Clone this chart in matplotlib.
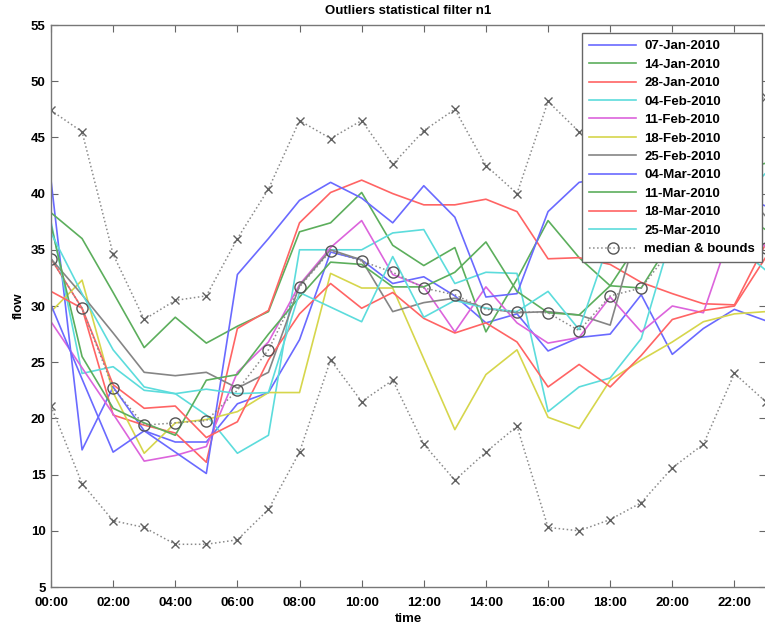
import matplotlib
matplotlib.use("Agg")
import matplotlib.pyplot as plt
import numpy as np

hours = list(range(24))
xtick_pos = list(range(0, 24, 2))
xtick_labels = ["00:00", "02:00", "04:00", "06:00", "08:00", "10:00",
                "12:00", "14:00", "16:00", "18:00", "20:00", "22:00"]

labels = ["07-Jan-2010", "14-Jan-2010", "28-Jan-2010", "04-Feb-2010",
          "11-Feb-2010", "18-Feb-2010", "25-Feb-2010", "04-Mar-2010",
          "11-Mar-2010", "18-Mar-2010", "25-Mar-2010"]

jan07 = [41.2, 17.2, 22.8, 18.9, 17.9, 17.9, 21.3, 22.3, 27.0, 34.8, 34.1, 32.0,
         32.6, 30.9, 28.5, 29.3, 26.0, 27.2, 27.5, 31.0, 25.7, 28.0, 29.7, 28.7]
jan14 = [38.3, 36.0, 31.2, 26.3, 29.0, 26.7, 28.2, 29.5, 36.6, 37.4, 40.1, 35.4,
         33.6, 35.2, 27.7, 32.4, 37.6, 34.3, 31.8, 31.6, 36.0, 37.5, 38.5, 36.8]
jan28 = [34.2, 29.8, 20.3, 19.4, 18.7, 16.1, 28.0, 29.6, 37.4, 40.1, 41.2, 40.0,
         39.0, 39.0, 39.5, 38.4, 34.2, 34.3, 33.7, 32.1, 31.1, 30.2, 30.1, 35.5]
feb04 = [37.5, 24.0, 24.6, 22.5, 22.2, 20.3, 16.9, 18.5, 35.0, 35.0, 35.0, 36.5,
         36.8, 32.0, 33.0, 32.9, 20.6, 22.8, 23.6, 27.1, 36.5, 38.0, 39.0, 41.8]
feb11 = [28.6, 24.5, 20.4, 16.2, 16.7, 17.5, 24.1, 26.8, 31.9, 35.2, 37.6, 32.8,
         31.7, 27.7, 31.7, 28.5, 26.7, 27.2, 30.8, 27.7, 30.0, 29.4, 37.5, 35.3]
feb18 = [29.5, 32.3, 22.3, 16.9, 19.6, 19.9, 20.6, 22.3, 22.3, 32.9, 31.6, 31.6,
         25.3, 19.0, 23.9, 26.1, 20.1, 19.1, 23.4, 25.2, 26.8, 28.6, 29.3, 29.5]
feb25 = [34.2, 31.0, 27.6, 24.1, 23.8, 24.1, 22.7, 24.1, 31.8, 35.0, 34.1, 29.5,
         30.3, 30.7, 29.8, 29.4, 29.5, 29.2, 28.3, 38.0, 39.5, 40.0, 41.0, 38.0]
mar04 = [30.1, 23.5, 17.0, 18.9, 17.0, 15.1, 32.8, 36.0, 39.4, 41.0, 39.6, 37.4,
         40.7, 37.9, 30.8, 31.1, 38.4, 41.0, 41.5, 40.5, 40.0, 39.5, 40.0, 38.9]
mar11 = [37.2, 25.5, 20.9, 19.6, 18.5, 23.4, 23.9, 27.5, 30.8, 33.9, 33.7, 31.7,
         31.7, 33.0, 35.7, 31.3, 29.4, 29.2, 31.8, 36.0, 39.0, 41.0, 42.0, 42.7]
mar18 = [31.3, 29.8, 23.0, 20.9, 21.1, 18.3, 19.7, 25.2, 29.3, 32.0, 29.8, 31.2,
         28.9, 27.6, 28.5, 26.8, 22.8, 24.8, 22.8, 25.6, 28.8, 29.6, 30.0, 34.3]
mar25 = [36.5, 31.1, 26.1, 22.8, 22.2, 22.6, 22.2, 22.3, 31.2, 29.9, 28.6, 34.4,
         29.0, 30.5, 29.8, 29.5, 31.3, 27.9, 36.0, 37.0, 37.0, 36.0, 35.5, 33.2]

median = [34.2, 29.8, 22.7, 19.4, 19.6, 19.8, 22.5, 26.1, 31.7, 34.9, 34.0, 33.0,
          31.6, 31.0, 29.7, 29.5, 29.4, 27.8, 30.9, 31.6, 35.2, 35.6, 35.9, 35.2]
upper = [47.4, 45.5, 34.6, 28.8, 30.5, 30.9, 36.0, 40.4, 46.5, 44.9, 46.5, 42.6,
         45.6, 47.5, 42.5, 40.0, 48.2, 45.5, 44.0, 44.5, 46.0, 45.0, 47.5, 48.6]
lower = [21.1, 14.2, 10.9, 10.3, 8.8, 8.8, 9.2, 11.9, 17.0, 25.2, 21.5, 23.4,
         17.7, 14.5, 17.0, 19.3, 10.3, 10.0, 11.0, 12.5, 15.6, 17.7, 24.0, 21.5]

series = [jan07, jan14, jan28, feb04, feb11, feb18, feb25, mar04, mar11, mar18, mar25]
colors = ["#6a6aff", "#5cae5c", "#ff6464", "#5cdcdc", "#dc64dc", "#d6d64c",
          "#858585", "#6a6aff", "#5cae5c", "#ff6464", "#5cdcdc"]

plt.rcParams['font.family'] = ['Liberation Sans', 'DejaVu Sans']
fig = plt.figure(figsize=(7.65, 6.25), dpi=100)
ax = fig.add_axes([51/765, 1-587/625, 714.5/765, 562/625])

for s, c, lab in zip(series, colors, labels):
    ax.plot(hours, s, color=c, lw=1.2, label=lab)

ax.plot(hours, median, ls=':', color='#8a8a8a', lw=1.1, marker='o', ms=8,
        mfc='none', mec='#555555', mew=1.0, label='median & bounds')
ax.plot(hours, upper, ls=':', color='#8a8a8a', lw=1.1, marker='x', ms=6,
        mec='#606060', mew=1.0)
ax.plot(hours, lower, ls=':', color='#8a8a8a', lw=1.1, marker='x', ms=6,
        mec='#606060', mew=1.0)

ax.set_xlim(0, 23)
ax.set_ylim(5, 55)
ax.set_xticks(xtick_pos)
ax.set_xticklabels(xtick_labels)
ax.set_yticks(range(5, 56, 5))
ax.tick_params(direction='in', top=True, right=True, length=5, width=0.8,
               colors='#666666', labelcolor='black', labelsize=9.5)
ax.tick_params(axis='x', pad=7)
ax.tick_params(axis='y', pad=4)
for lbl in ax.get_xticklabels() + ax.get_yticklabels():
    lbl.set_fontweight('bold')
for sp in ax.spines.values():
    sp.set_color('#777777')
    sp.set_linewidth(1.0)

ax.set_title('Outliers statistical filter n1', fontsize=9.5, fontweight='bold', pad=8)
ax.set_xlabel('time', fontsize=9.5, fontweight='bold', labelpad=3)
ax.set_ylabel('flow', fontsize=9.5, fontweight='bold', labelpad=4)

leg = ax.legend(loc='upper right', bbox_to_anchor=(0.9955, 0.986),
                prop={'weight': 'bold', 'size': 9.5}, frameon=True, fancybox=False,
                handlelength=3.6, labelspacing=0.47, borderpad=0.55, handletextpad=0.6,
                borderaxespad=0.0)
leg.get_frame().set_edgecolor('#666666')
leg.get_frame().set_linewidth(1.0)
leg.get_frame().set_alpha(1.0)

fig.savefig('out.png', dpi=100)
